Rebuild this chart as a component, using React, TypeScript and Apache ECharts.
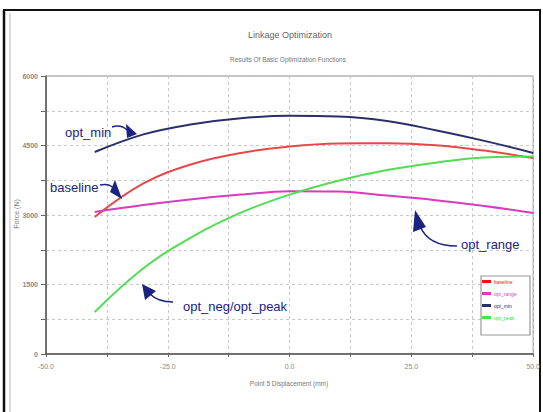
import React, { useEffect, useRef } from "react";
import * as echarts from "echarts";

const xValues = [-40, -30, -20, -10, 0, 10, 20, 30, 40, 50];
const baseline = [2956, 3680, 4100, 4340, 4480, 4545, 4550, 4505, 4390, 4230];
const optRange = [3065, 3215, 3340, 3440, 3515, 3505, 3420, 3320, 3195, 3043];
const optMin = [4359, 4740, 4960, 5090, 5140, 5125, 5028, 4830, 4600, 4338];
const optPeak = [906, 1850, 2530, 3050, 3440, 3740, 3970, 4130, 4240, 4260];

const seriesNames = ["baseline", "opt_range", "opt_min", "opt_peak"];
const seriesColors = ["#e5484a", "#d83cbc", "#2a2f6a", "#52dc52"];
const legendColors = ["#ff1010", "#e040d0", "#2a2f6a", "#40e040"];

const titleText = "Linkage Optimization";
const subtitleText = "Results Of Basic Optimization Functions";
const xTitle = "Point 5 Displacement (mm)";
const yTitle = "Force (N)";

const FONT = "Liberation Sans";
const NAVY = "#1a2480";

function pair(ys: number[]) {
  return xValues.map((x, i) => [x, ys[i]]);
}

export default function App() {
  const ref = useRef<HTMLDivElement>(null);
  useEffect(() => {
    if (!ref.current) return;
    const chart = echarts.init(ref.current, null, { renderer: "svg" });
    const allData = [baseline, optRange, optMin, optPeak];
    const arrowTxt = (text: string, x: number, y: number) => ({
      type: "text",
      x,
      y,
      z: 10,
      style: { text, fill: NAVY, font: `13px ${FONT}`, textVerticalAlign: "middle" },
    });
    const curve = (x1: number, y1: number, cpx1: number, cpy1: number, x2: number, y2: number) => ({
      type: "bezierCurve",
      z: 10,
      shape: { x1, y1, cpx1, cpy1, x2, y2 },
      style: { stroke: NAVY, lineWidth: 1.5, fill: "none" },
    });
    const head = (pts: number[][]) => ({
      type: "polygon",
      z: 10,
      shape: { points: pts },
      style: { fill: NAVY },
    });
    chart.setOption({
      animation: false,
      backgroundColor: "#ffffff",
      grid: {
        left: 46,
        right: 8,
        top: 76,
        bottom: 58,
        show: true,
        borderColor: "#8a8a8a",
        borderWidth: 1,
      },
      xAxis: {
        type: "value",
        min: -50,
        max: 50,
        interval: 12.5,
        axisLine: { show: true, onZero: false, lineStyle: { color: "#555", width: 1.5 } },
        axisTick: { show: true, length: 3, lineStyle: { color: "#666" } },
        axisLabel: {
          fontSize: 7,
          color: "#8a8a8a",
          fontFamily: FONT,
          margin: 9,
          formatter: (v: number) => (Math.abs(v % 25) < 1e-6 ? v.toFixed(1) : ""),
        },
        splitLine: { show: true, lineStyle: { color: "#c8c8c8", type: [3, 3] } },
      },
      yAxis: {
        type: "value",
        min: 0,
        max: 6000,
        interval: 750,
        axisLine: { show: true, onZero: false, lineStyle: { color: "#555", width: 1.5 } },
        axisTick: { show: true, length: 5, lineStyle: { color: "#666" } },
        axisLabel: {
          fontSize: 7,
          color: "#8a8a8a",
          fontFamily: FONT,
          fontWeight: "bold",
          margin: 8,
          formatter: (v: number) => (v % 1500 === 0 ? String(v) : ""),
        },
        splitLine: { show: true, lineStyle: { color: "#c8c8c8", type: [3, 3] } },
      },
      legend: {
        orient: "vertical",
        left: 482,
        top: 279,
        z: 6,
        padding: 0,
        itemWidth: 9,
        itemHeight: 3,
        itemGap: 7,
        icon: "rect",
        textStyle: { fontSize: 5, fontFamily: FONT, padding: [0, 0, 0, -2] },
        data: seriesNames.map((n, i) => ({ name: n, textStyle: { color: legendColors[i] } })),
      },
      series: seriesNames.map((n, i) => ({
        name: n,
        type: "line",
        smooth: 0.4,
        showSymbol: false,
        color: i === 0 ? legendColors[0] : seriesColors[i],
        lineStyle: { width: 2, color: seriesColors[i] },
        data: pair(allData[i]),
        z: 3,
      })),
      graphic: [
        // outer frame
        { type: "line", shape: { x1: 3, y1: 10, x2: 541, y2: 10 }, style: { stroke: "#111", lineWidth: 2 } },
        { type: "line", shape: { x1: 4, y1: 10, x2: 4, y2: 412 }, style: { stroke: "#111", lineWidth: 2.5 } },
        { type: "line", shape: { x1: 540, y1: 10, x2: 540, y2: 412 }, style: { stroke: "#111", lineWidth: 2 } },
        { type: "line", shape: { x1: 10, y1: 13, x2: 10, y2: 412 }, style: { stroke: "#bbb", lineWidth: 1 } },
        // titles
        {
          type: "text",
          x: 290,
          y: 35,
          style: { text: titleText, fill: "#666", font: `9px ${FONT}`, textAlign: "center", textVerticalAlign: "middle" },
        },
        {
          type: "text",
          x: 288,
          y: 59,
          style: { text: subtitleText, fill: "#777", font: `6.5px ${FONT}`, textAlign: "center", textVerticalAlign: "middle" },
        },
        {
          type: "text",
          x: 289,
          y: 383,
          style: { text: xTitle, fill: "#777", font: `6.5px ${FONT}`, textAlign: "center", textVerticalAlign: "middle" },
        },
        {
          type: "text",
          x: 16,
          y: 214,
          rotation: Math.PI / 2,
          style: { text: yTitle, fill: "#777", font: `7px ${FONT}`, textAlign: "center", textVerticalAlign: "middle" },
        },
        // legend box
        {
          type: "rect",
          z: 4,
          shape: { x: 481, y: 276, width: 49, height: 59 },
          style: { fill: "#fff", stroke: "#999", lineWidth: 1.2 },
        },
        // annotations
        arrowTxt("opt_min", 65, 132),
        curve(112, 127, 121, 124, 127, 130),
        head([[137, 134], [126, 124], [127, 138]]),
        arrowTxt("baseline", 50, 187),
        curve(100, 185, 110, 183, 114, 189),
        head([[122, 199], [115, 180], [110, 192]]),
        arrowTxt("opt_range", 461, 244),
        curve(457, 246, 428, 246, 420, 226),
        head([[415, 210], [426, 227], [413, 232]]),
        arrowTxt("opt_neg/opt_peak", 183, 306),
        curve(173, 302, 158, 302, 150, 294),
        head([[142, 284], [145, 300], [156, 291]]),
      ],
    });
    return () => chart.dispose();
  }, []);
  return (
    <div
      ref={ref}
      style={{ position: "fixed", left: 0, top: 0, width: 543, height: 412 }}
    />
  );
}
